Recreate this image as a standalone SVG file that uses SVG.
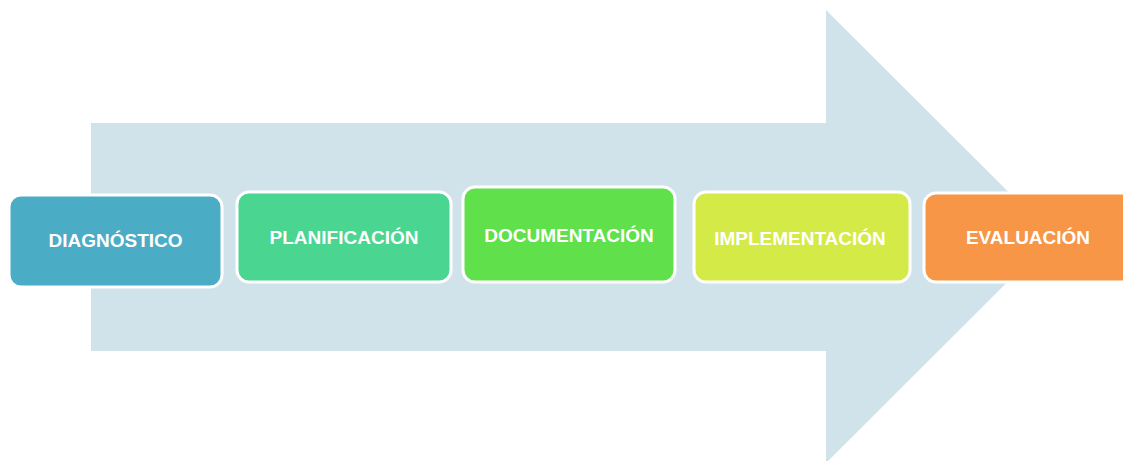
<svg xmlns="http://www.w3.org/2000/svg" width="1123" height="461" viewBox="0 0 1123 461">
<style>
.box{stroke:#ffffff;stroke-width:3}
.lbl{font-family:"Liberation Sans",Arial,sans-serif;font-weight:bold;font-size:19px;fill:#ffffff;text-anchor:middle;dominant-baseline:central}
</style>
<rect width="1123" height="461" fill="#ffffff"/>
<g id="arrow">
<polygon points="91,123 826,123 826,10 1053,236.5 826,463 826,351 91,351" fill="#D1E3EA"/>
</g>
<g id="connectors"></g>
<g id="diagnostico">
<rect class="box" x="9" y="195" width="213" height="92" rx="12" fill="#4BACC6"/>
<text class="lbl" x="115.5" y="240">DIAGNÓSTICO</text>
</g>
<g id="planificacion">
<rect class="box" x="237" y="192" width="214" height="90" rx="12" fill="#4AD590"/>
<text class="lbl" x="344" y="237">PLANIFICACIÓN</text>
</g>
<g id="documentacion">
<rect class="box" x="463" y="187" width="212" height="95" rx="12" fill="#60E04A"/>
<text class="lbl" x="569" y="235">DOCUMENTACIÓN</text>
</g>
<g id="implementacion">
<rect class="box" x="694" y="192" width="216" height="90" rx="12" fill="#D4EA47"/>
<text class="lbl" x="800" y="238">IMPLEMENTACIÓN</text>
</g>
<g id="evaluacion">
<rect class="box" x="924" y="193" width="215" height="89" rx="12" fill="#F79646"/>
<text class="lbl" x="1028" y="237">EVALUACIÓN</text>
</g>
</svg>
